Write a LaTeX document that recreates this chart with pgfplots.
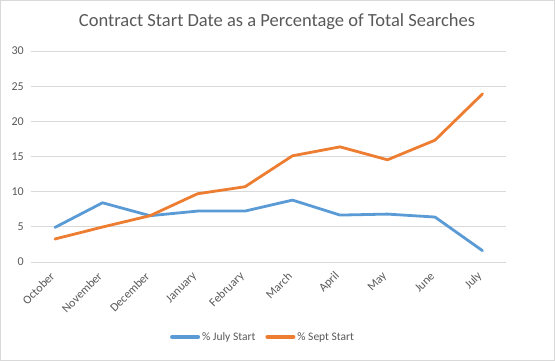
\documentclass[border=0pt]{standalone}
\usepackage{pgfplots}
\pgfplotsset{compat=1.18}
\usepackage{fontspec}
\setmainfont{Carlito}
\definecolor{cblue}{HTML}{5B9BD5}
\definecolor{corange}{HTML}{ED7D31}
\definecolor{cgrid}{HTML}{D9D9D9}
\definecolor{ctext}{HTML}{595959}
\begin{document}
\begin{tikzpicture}
\useasboundingbox (0pt,0pt) rectangle (555pt,361pt);
\draw[draw=cgrid, line width=0.75pt] (0.5pt,0.5pt) rectangle (554.5pt,360.5pt);
\node[text=ctext, font=\fontsize{18.5}{22}\selectfont] at (277pt,339pt) {Contract Start Date as a Percentage of Total Searches};
\begin{axis}[
  at={(55pt,99pt)}, anchor=origin, scale only axis,
  width=475pt, height=211pt,
  xmin=-0.5, xmax=9.5, ymin=0, ymax=30,
  ytick={0,5,...,30}, xtick={0,...,9},
  xticklabels={October,November,December,January,February,March,April,May,June,July},
  axis line style={draw=none},
  major tick length=0pt,
  ymajorgrids, grid style={draw=cgrid, line width=0.75pt},
  tick label style={text=ctext, font=\fontsize{12}{14}\selectfont},
  /pgf/number format/assume math mode=true,
  yticklabel style={anchor=east, xshift=-4pt},
  xticklabel style={rotate=45, anchor=east, xshift=-7pt, yshift=-7pt},
  legend style={at={(0.488,-0.355)}, anchor=center, draw=none, legend columns=2,
    font=\fontsize{11.5}{14}\selectfont, text=ctext,
    /tikz/every even column/.append style={column sep=8pt}},
  legend image code/.code={\draw[#1, line width=4pt] (0pt,0pt) -- (26pt,0pt);},
]
\addplot[cblue, line width=2.8pt, line join=round, line cap=round] coordinates {
(0,4.92) (1,8.42) (2,6.58) (3,7.24) (4,7.24) (5,8.8) (6,6.67) (7,6.81) (8,6.39) (9,1.61)};
\addlegendentry{\% July Start}
\addplot[corange, line width=2.8pt, line join=round, line cap=round] coordinates {
(0,3.27) (1,4.97) (2,6.58) (3,9.7) (4,10.7) (5,15.1) (6,16.37) (7,14.53) (8,17.32) (9,23.9)};
\addlegendentry{\% Sept Start}
\end{axis}
\end{tikzpicture}
\end{document}
